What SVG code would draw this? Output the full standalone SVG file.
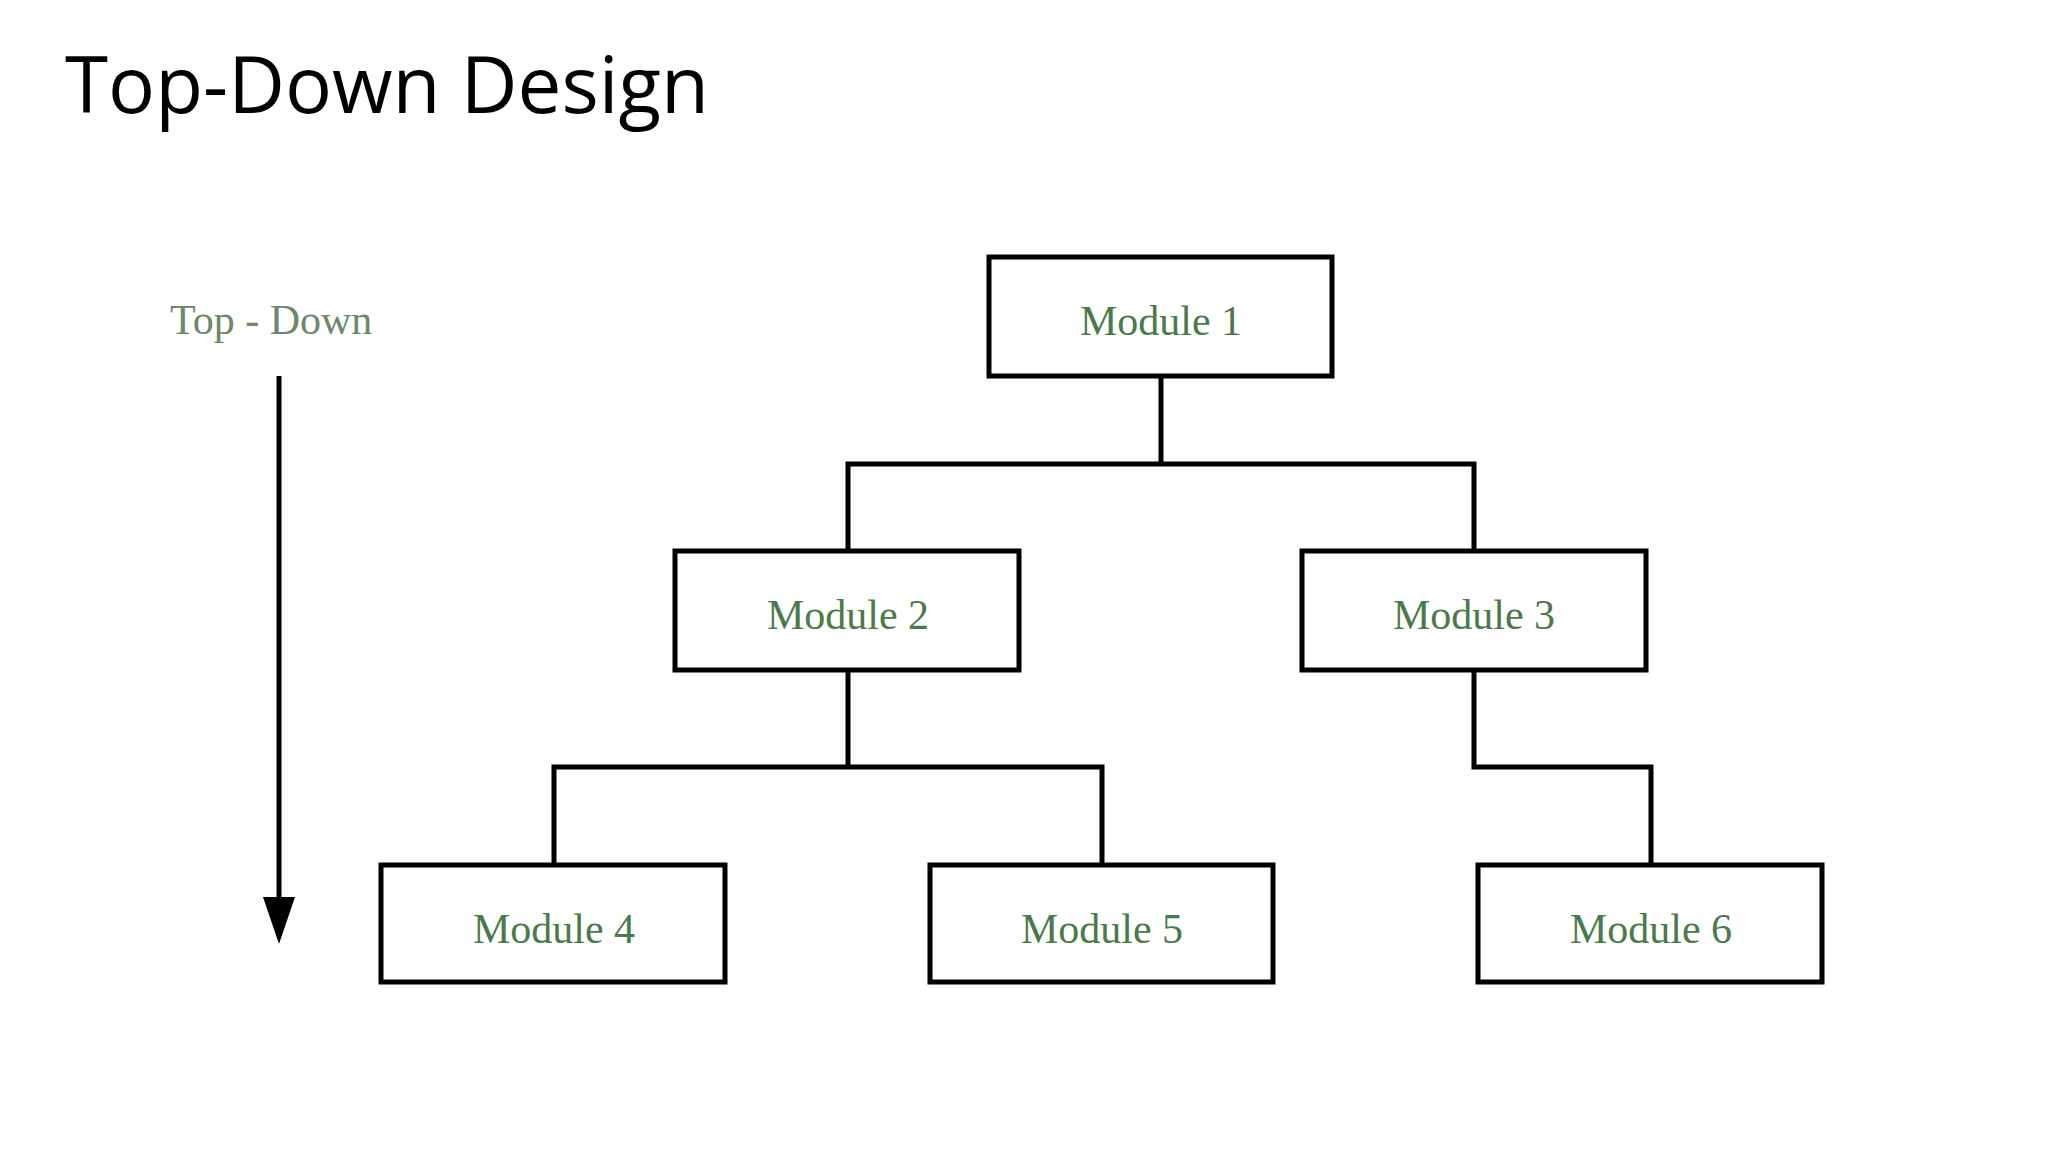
<svg xmlns="http://www.w3.org/2000/svg" width="2048" height="1152" viewBox="0 0 2048 1152">
<style>
.box{fill:#fff;stroke:#000;stroke-width:5}
.lbl{font-family:"Liberation Serif",serif;font-size:42px;fill:#4a7a4a;text-anchor:middle}
.con{fill:none;stroke:#000;stroke-width:5}
</style>
<rect width="2048" height="1152" fill="#fff"/>
<text x="65" y="113" font-family="Open Sans, sans-serif" font-size="78" textLength="644" lengthAdjust="spacingAndGlyphs">Top-Down Design</text>
<g id="arrow">
<text x="170" y="334" font-family="Liberation Serif, serif" font-size="42" fill="#6a8a6a">Top - Down</text>
<line x1="279" y1="376" x2="279" y2="900" stroke="#000" stroke-width="5"/>
<polygon points="263,897 295,897 279,944" fill="#000"/>
</g>
<g id="connectors">
<polyline class="con" points="1161,376 1161,464"/>
<polyline class="con" points="848,551 848,464 1474,464 1474,551"/>
<polyline class="con" points="848,670 848,767"/>
<polyline class="con" points="554,865 554,767 1102,767 1102,865"/>
<polyline class="con" points="1474,670 1474,767 1651,767 1651,865"/>
</g>
<g id="m1"><rect class="box" x="989" y="257" width="343" height="119"/><text class="lbl" x="1161" y="335">Module 1</text></g>
<g id="m2"><rect class="box" x="675" y="551" width="344" height="119"/><text class="lbl" x="848" y="629">Module 2</text></g>
<g id="m3"><rect class="box" x="1302" y="551" width="344" height="119"/><text class="lbl" x="1474" y="629">Module 3</text></g>
<g id="m4"><rect class="box" x="381" y="865" width="344" height="117"/><text class="lbl" x="554" y="943">Module 4</text></g>
<g id="m5"><rect class="box" x="930" y="865" width="343" height="117"/><text class="lbl" x="1102" y="943">Module 5</text></g>
<g id="m6"><rect class="box" x="1478" y="865" width="344" height="117"/><text class="lbl" x="1651" y="943">Module 6</text></g>
</svg>
